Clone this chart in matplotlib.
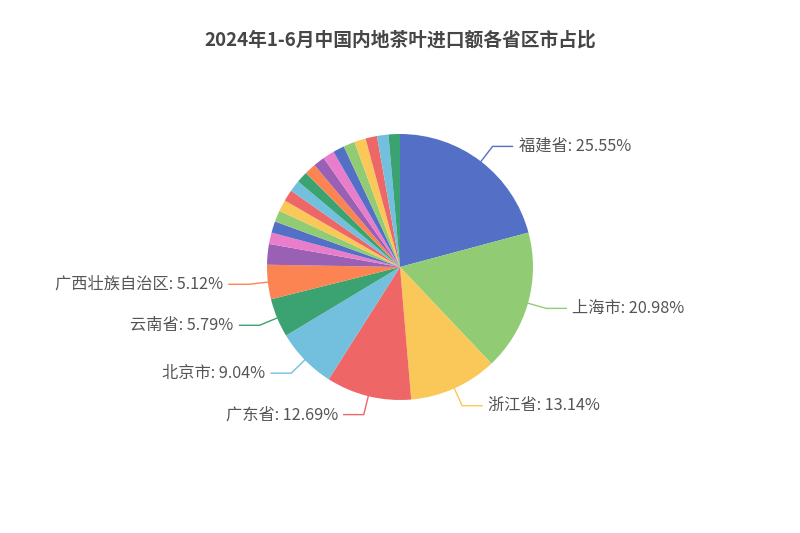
import numpy as np
import matplotlib
matplotlib.use("Agg")
import matplotlib.pyplot as plt

plt.rcParams['font.family'] = ['Noto Sans CJK SC', 'DejaVu Sans']

# data (share of tea import value, %)
provinces = ["福建省", "上海市", "浙江省", "广东省", "北京市", "云南省", "广西壮族自治区",
             "江苏省", "山东省", "四川省", "天津市", "湖南省", "海南省", "安徽省", "湖北省",
             "辽宁省", "河南省", "重庆市", "陕西省", "江西省", "河北省", "贵州省", "吉林省", "黑龙江省"]
shares = [25.55, 20.98, 13.14, 12.69, 9.04, 5.79, 5.12,
          3.07, 0.60, 0.50, 0.45, 0.40, 0.35, 0.32, 0.30, 0.28, 0.25, 0.22, 0.20, 0.20,
          0.18, 0.15, 0.12, 0.10]
n_labeled = 7

palette = ['#5470c6', '#91cc75', '#fac858', '#ee6666', '#73c0de',
           '#3ba272', '#fc8452', '#9a60b4', '#ea7ccc']
colors = [palette[i % len(palette)] for i in range(len(shares))]

# echarts-like minAngle: tiny slices are widened to 5 degrees
min_angle = 5.0
vals = np.array(shares, dtype=float)
ang = vals * 360.0 / vals.sum()
small = ang < min_angle
ang[small] = min_angle
rest = 360.0 - min_angle * small.sum()
ang[~small] = vals[~small] * rest / vals[~small].sum()

W, H = 800, 533
fig = plt.figure(figsize=(8, 5.33), dpi=100)
cx, cy, R = 400, 267, 133
ax = fig.add_axes([(cx - R) / W, (H - cy - R) / H, 2 * R / W, 2 * R / H])

ax.pie(ang, startangle=90, counterclock=False, colors=colors, radius=1,
       wedgeprops=dict(linewidth=0))
ax.set_xlim(-1, 1)
ax.set_ylim(-1, 1)
ax.axis('off')

# labels with two-segment leader lines
len1, len2, gap = 19 / R, 20 / R, 6 / R
start = 0.0
for i in range(n_labeled):
    mid = np.deg2rad(start + ang[i] / 2)
    start += ang[i]
    dx, dy = np.sin(mid), np.cos(mid)
    side = 1 if dx >= 0 else -1
    p1 = (dx, dy)
    p2 = ((1 + len1) * dx, (1 + len1) * dy)
    p3 = (p2[0] + side * len2, p2[1])
    ax.plot([p1[0], p2[0], p3[0]], [p1[1], p2[1], p3[1]], color=colors[i],
            lw=1, clip_on=False, solid_joinstyle='miter')
    ax.text(p3[0] + side * gap, p3[1], f"{provinces[i]}: {shares[i]:.2f}%",
            ha='left' if side > 0 else 'right', va='center',
            fontsize=11.7, color='#555555', clip_on=False)

fig.text(0.5, 1 - 40 / H, "2024年1-6月中国内地茶叶进口额各省区市占比",
         ha='center', va='center', fontsize=13.5, fontweight='bold', color='#464646')

fig.savefig("out.png", dpi=100, facecolor='white')
